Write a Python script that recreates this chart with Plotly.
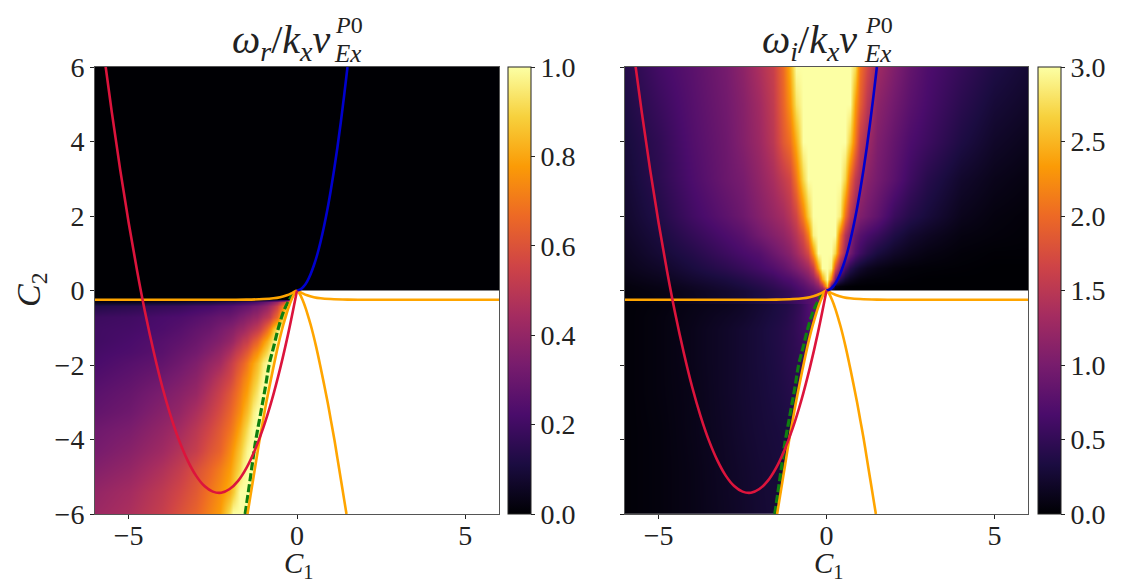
#!/usr/bin/env python3
import plotly.graph_objects as go

# DATA
# left panel, omega_r: x columns, y rows, rows are the part left of saturation at 1
x_r = [-6, -5, -4, -3.5, -3, -2.6, -2.3, -2.0, -1.9, -1.8, -1.7, -1.6, -1.5, -1.4, -1.3, -1.2,
       -1.1, -1.0, -0.9, -0.8, -0.7, -0.6, -0.5, -0.4, -0.3, -0.2, -0.1, 0, 6]
y_r = [-6, -5.4, -4.8, -4.3, -3.75, -3.25, -2.75, -2.35, -1.95, -1.65, -1.35, -1.03, -0.7, -0.42, -0.3, -0.24, 0, 6]
rows_r = [
    [.42, .46, .53, .59, .65, .72, .78, .93],
    [.40, .44, .51, .56, .62, .69, .75, .82, .87, .93],
    [.36, .40, .47, .52, .59, .65, .71, .78, .82, .86, .91, .97],
    [.33, .37, .43, .48, .53, .60, .65, .74, .78, .82, .87, .92, .98],
    [.31, .34, .40, .44, .50, .56, .62, .69, .72, .76, .81, .86, .92, .97],
    [.28, .31, .37, .40, .46, .52, .58, .65, .68, .71, .75, .80, .85, .90, .96],
    [.26, .29, .34, .37, .41, .48, .54, .61, .64, .67, .71, .75, .79, .84, .89, .94, .99],
    [.24, .27, .31, .34, .38, .44, .50, .56, .59, .63, .67, .71, .75, .79, .84, .89, .94, .99],
    [.22, .25, .28, .31, .35, .40, .44, .52, .55, .58, .62, .65, .70, .75, .79, .84, .89, .95, .99],
    [.21, .23, .26, .29, .32, .36, .40, .46, .49, .52, .55, .58, .62, .66, .71, .75, .80, .85, .91, .97],
    [.20, .22, .25, .27, .30, .33, .36, .40, .42, .45, .48, .51, .53, .57, .61, .65, .70, .76, .82, .88, .95],
    [.20, .21, .23, .25, .28, .30, .33, .36, .37, .39, .41, .42, .45, .47, .49, .52, .55, .60, .67, .74, .84, .93],
    [.19, .20, .22, .23, .25, .27, .29, .30, .31, .32, .34, .35, .37, .38, .40, .41, .44, .47, .50, .53, .60, .67, .78, .92],
    [.13, .15, .17, .18, .20, .21, .23, .24, .25, .26, .27, .28, .29, .30, .32, .33, .35, .37, .40, .44, .48, .55, .64, .76, .90],
    [.04, .05, .07, .08, .10, .11, .13, .15, .15, .16, .17, .18, .19, .20, .21, .23, .25, .27, .30, .33, .37, .42, .50, .60, .74, .90],
]

# right panel, omega_i, below the orange line: rows stop where the value stops changing
x_il = [-6, -5, -4, -3, -2.5, -2, -1.7, -1.4, -1.2, -1, -0.8, -0.6, -0.4, -0.2, 0, 6]
y_il = [-6, -4.8, -3.75, -2.75, -1.95, -1.35, -1.03, -0.7, -0.42, -0.27]
rows_il = [
    [.02, .05, .10, .17, .21, .25, .27, .28],
    [.02, .05, .10, .18, .22, .26, .28, .30, .31],
    [.02, .05, .11, .19, .24, .28, .30, .32, .34, .35],
    [.02, .06, .11, .20, .25, .29, .32, .35, .38, .41, .43],
    [.02, .06, .12, .20, .25, .30, .33, .37, .41, .45, .48, .50],
    [.02, .06, .12, .20, .25, .30, .34, .38, .42, .46, .52, .58, .60],
    [.02, .06, .12, .20, .25, .30, .34, .38, .42, .47, .54, .62, .68],
    [.02, .06, .11, .18, .22, .28, .32, .36, .40, .46, .54, .64, .76],
    [.02, .05, .10, .15, .20, .26, .30, .35, .38, .44, .52, .64, .80, .95],
    [.02, .04, .08, .13, .17, .22, .27, .31, .35, .42, .50, .62, .78, .98, 1.0],
]

# right panel, omega_i, above the orange line
x_iu = [-6, -5, -4, -3, -2.5, -2, -1.6, -1.3, -1.1, -0.9, -0.7, -0.55, -0.4, -0.25, -0.12, 0,
        0.12, 0.25, 0.4, 0.55, 0.7, 0.85, 1, 1.2, 1.5, 2, 2.5, 3, 4, 5, 6]
y_iu = [-0.25, 0, 0.12, 0.3, 0.6, 1, 1.5, 2, 3, 4, 5, 6]
z_iu = [
    [.03, .07, .14, .22, .27, .34, .41, .47, .52, .58, .66, .73, .80, .88, .93, 1, 0, 0, 0, 0, 0, 0, 0, 0, 0, 0, 0, 0, 0, 0, 0],
    [.04, .08, .15, .23, .28, .35, .42, .48, .53, .60, .68, .75, .82, .90, .95, 1, 0, 0, 0, 0, 0, 0, 0, 0, 0, 0, 0, 0, 0, 0, 0],
    [.05, .10, .18, .27, .33, .40, .48, .55, .60, .67, .76, .85, .95, 1.15, 1.5, 2.6, .8, .15, .05, .02, .01, 0, 0, 0, 0, 0, 0, 0, 0, 0, 0],
    [.08, .14, .24, .33, .40, .48, .56, .65, .70, .78, .90, 1.02, 1.2, 1.55, 2.4, 3, 2.2, .95, .45, .25, .15, .10, .06, .04, .03, .02, .01, 0, 0, 0, 0],
    [.12, .20, .32, .45, .53, .62, .72, .82, .92, 1.02, 1.17, 1.3, 1.6, 2.4, 3, 3, 2.9, 1.8, 1.05, .65, .42, .30, .22, .15, .10, .05, .03, .02, .01, 0, 0],
    [.15, .27, .40, .57, .66, .74, .90, 1.02, 1.12, 1.28, 1.5, 1.72, 2.3, 3, 3, 3, 3, 2.7, 1.8, 1.25, .95, .72, .58, .45, .32, .20, .13, .08, .03, .01, .01],
    [.19, .32, .50, .68, .78, .95, 1.08, 1.18, 1.3, 1.47, 1.75, 2.15, 2.9, 3, 3, 3, 3, 3, 2.1, 1.45, 1.1, .88, .75, .65, .55, .36, .24, .17, .07, .04, .02],
    [.22, .38, .60, .80, .92, 1.08, 1.22, 1.33, 1.48, 1.68, 2.15, 2.65, 3, 3, 3, 3, 3, 3, 2.85, 2.05, 1.5, 1.22, 1.05, .95, .82, .55, .40, .30, .13, .06, .03],
    [.26, .45, .68, .90, 1.0, 1.18, 1.36, 1.55, 1.7, 2.1, 2.7, 3, 3, 3, 3, 3, 3, 3, 3, 2.7, 2.0, 1.55, 1.3, 1.12, .98, .78, .58, .42, .22, .12, .07],
    [.30, .48, .72, .92, 1.08, 1.26, 1.5, 1.85, 2.05, 2.45, 3, 3, 3, 3, 3, 3, 3, 3, 3, 3, 2.65, 2.1, 1.55, 1.3, 1.05, .85, .68, .57, .35, .20, .13],
    [.35, .55, .75, .95, 1.1, 1.3, 1.55, 1.95, 2.3, 2.8, 3, 3, 3, 3, 3, 3, 3, 3, 3, 3, 3, 2.35, 1.9, 1.5, 1.15, .95, .78, .65, .44, .28, .20],
    [.40, .62, .78, .98, 1.15, 1.38, 1.6, 2.0, 2.45, 3, 3, 3, 3, 3, 3, 3, 3, 3, 3, 3, 3, 2.75, 2.05, 1.7, 1.3, 1.05, .85, .70, .52, .36, .26],
]

# curves
x_red = [-5.75, -5.5, -5.25, -5, -4.75, -4.5, -4.25, -4, -3.75, -3.5, -3.25, -3, -2.75, -2.5, -2.25,
         -2, -1.75, -1.5, -1.25, -1, -0.75, -0.5, -0.25, 0]
y_red = [6.45, 4.78, 3.23, 1.82, 0.53, -0.64, -1.67, -2.59, -3.37, -4.03, -4.56, -4.97, -5.25, -5.40, -5.43,
         -5.33, -5.11, -4.76, -4.28, -3.68, -2.95, -2.09, -1.11, 0]
x_blue = [0, 0.1, 0.2, 0.3, 0.4, 0.5, 0.6, 0.7, 0.8, 0.9, 1, 1.1, 1.2, 1.3, 1.4, 1.5]
y_blue = [0, 0.03, 0.11, 0.24, 0.43, 0.67, 0.96, 1.31, 1.71, 2.16, 2.67, 3.23, 3.84, 4.51, 5.23, 6]
x_green = [-1.54, -1.38, -1.24, -1.08, -0.94, -0.83, -0.69, -0.55, -0.37, -0.13]
y_green = [-6, -5, -4.1, -3.3, -2.6, -2, -1.5, -1, -0.5, -0.1]
x_or_down = [0, 0.087, 0.164, 0.266, 0.35, 0.43, 0.566, 0.686, 0.8, 0.91, 1.01, 1.11, 1.2, 1.29, 1.38, 1.47]
y_or_down = [0, -0.1, -0.25, -0.5, -0.75, -1, -1.5, -2, -2.5, -3, -3.5, -4, -4.5, -5, -5.5, -6]
x_or_flat = [0, 0.15, 0.3, 0.5, 0.7, 1, 1.5, 2, 3, 6]
y_or_flat = [0, -0.07, -0.13, -0.18, -0.21, -0.23, -0.245, -0.25, -0.25, -0.25]

ticks_c = [-5, 0, 5]
ticks_y = [-6, -4, -2, 0, 2, 4, 6]

W, H = 1136, 585
SERIF = "Liberation Serif"

z_r = [r + [1] * (len(x_r) - len(r)) for r in rows_r]
z_r += [[0] * len(x_r) for _ in y_r[len(rows_r):]]
z_il = [r + [r[-1]] * (len(x_il) - len(r)) for r in rows_il]


def neg(vals):
    return [-v for v in vals]


# CREATE FIGURE
fig = go.Figure()
fig.add_trace(go.Heatmap(x=x_r, y=y_r, z=z_r, zsmooth="best", coloraxis="coloraxis",
                         xaxis="x", yaxis="y"))
fig.add_trace(go.Heatmap(x=x_il, y=y_il, z=z_il, zsmooth="best", coloraxis="coloraxis2",
                         xaxis="x2", yaxis="y2"))
fig.add_trace(go.Heatmap(x=x_iu, y=y_iu, z=z_iu, zsmooth="best", coloraxis="coloraxis2",
                         xaxis="x2", yaxis="y2"))

for xa, ya in (("x", "y"), ("x2", "y2")):
    # white part: no solution right of the left orange branch
    fig.add_trace(go.Scatter(x=neg(x_or_down) + [6, 6, 0], y=y_or_down + [-6, 0, 0], mode="lines",
                             fill="toself", fillcolor="white", line=dict(width=0),
                             xaxis=xa, yaxis=ya, showlegend=False))
    fig.add_trace(go.Scatter(x=x_green, y=y_green, mode="lines", xaxis=xa, yaxis=ya, showlegend=False,
                             line=dict(color="#0f7f0f", width=3.2, dash="8px,3px", shape="spline")))
    for cx, cy in ((x_or_down, y_or_down), (neg(x_or_down), y_or_down), (x_or_flat, y_or_flat), (neg(x_or_flat), y_or_flat)):
        fig.add_trace(go.Scatter(x=cx, y=cy, mode="lines", xaxis=xa, yaxis=ya, showlegend=False,
                                 line=dict(color="#ffa500", width=2.6, shape="spline")))
    fig.add_trace(go.Scatter(x=x_blue, y=y_blue, mode="lines", xaxis=xa, yaxis=ya, showlegend=False,
                             line=dict(color="#0000cd", width=2.6, shape="spline")))
    fig.add_trace(go.Scatter(x=x_red, y=y_red, mode="lines", xaxis=xa, yaxis=ya, showlegend=False,
                             line=dict(color="#dc143c", width=2.6, shape="spline")))


def colorbar(x_px, dtick):
    return dict(x=x_px / W, xanchor="left", xpad=0, y=1 - 67 / H, yanchor="top", ypad=0,
                len=447 / H, thickness=23, outlinewidth=1, outlinecolor="#222",
                tick0=0, dtick=dtick, tickformat=".1f", ticks="outside", ticklen=4,
                tickcolor="#222", tickfont=dict(family=SERIF, size=28, color="#222"))


# LAYOUT
axis = dict(range=[-6, 6], showgrid=False, zeroline=False, showline=True, mirror=True, linecolor="#555",
            linewidth=1, ticks="outside", ticklen=4, tickcolor="#222",
            tickfont=dict(family=SERIF, size=28, color="#222"))

fig.update_layout(
    width=W, height=H, margin=dict(l=0, r=0, t=0, b=0, autoexpand=False), paper_bgcolor="white", plot_bgcolor="white",
    hovermode=False,
    xaxis=dict(axis, domain=[95 / W, 499 / W], tickvals=ticks_c, anchor="y", ticklabelstandoff=-8),
    yaxis=dict(axis, domain=[1 - 514 / H, 1 - 67 / H], tickvals=ticks_y, anchor="x"),
    xaxis2=dict(axis, domain=[625 / W, 1028 / W], tickvals=ticks_c, anchor="y2", ticklabelstandoff=-8),
    yaxis2=dict(axis, domain=[1 - 514 / H, 1 - 67 / H], tickvals=ticks_y, anchor="x2", showticklabels=False),
    coloraxis=dict(colorscale="Inferno", cmin=0, cmax=1, colorbar=colorbar(508, 0.2)),
    coloraxis2=dict(colorscale="Inferno", cmin=0, cmax=3, colorbar=colorbar(1038, 0.5)),
)

# labels: text, left pixel, middle pixel, size
titles = [
    ("<i>ω<sub>r</sub></i>/<i>k<sub>x</sub>v</i>", 230, 42, 40),
    ("<i>P</i>0", 333, 25, 24),
    ("<i>Ex</i>", 332, 53, 25),
    ("<i>ω<sub>i</sub></i>/<i>k<sub>x</sub>v</i>", 760, 42, 40),
    ("<i>P</i>0", 863, 25, 24),
    ("<i>Ex</i>", 862, 53, 25),
    ("<i>C</i><sub>1</sub>", 282, 565, 29),
    ("<i>C</i><sub>1</sub>", 812, 565, 29),
]
for text, px, py, size in titles:
    fig.add_annotation(text=text, xref="paper", yref="paper", x=px / W, y=1 - py / H, xanchor="left",
                       yanchor="middle", showarrow=False, font=dict(family=SERIF, size=size, color="#222"))
fig.add_annotation(text="<i>C</i><sub>2</sub>", xref="paper", yref="paper", x=31 / W, y=1 - 289 / H, xanchor="center",
                   yanchor="middle", textangle=-90, showarrow=False, font=dict(family=SERIF, size=34, color="#222"))

# SHOW
fig.write_html("out.html", config={"displayModeBar": False},
               post_script="document.body.style.margin='0';document.documentElement.style.overflow='hidden';")
